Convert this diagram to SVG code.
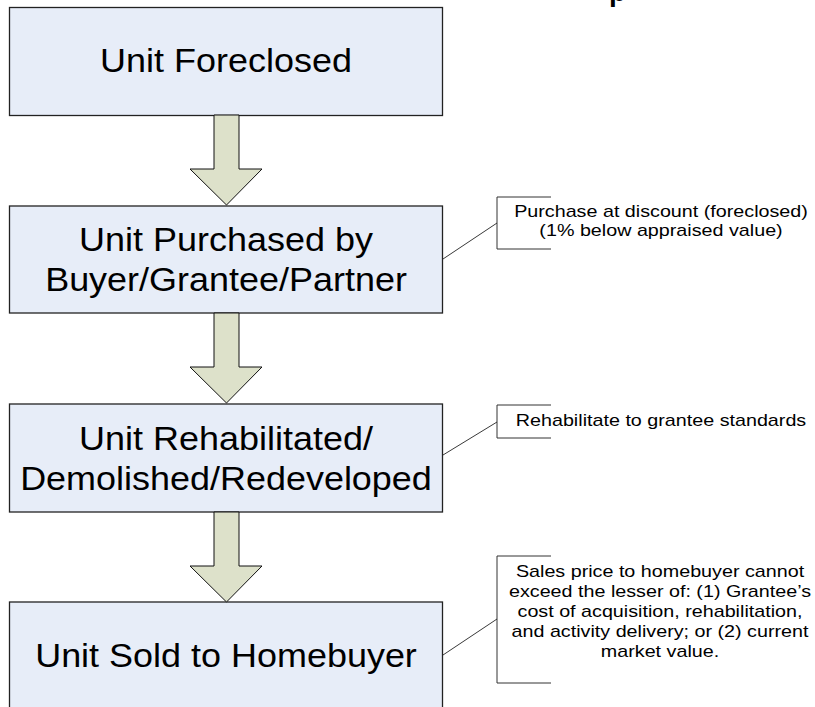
<svg xmlns="http://www.w3.org/2000/svg" width="815" height="707" viewBox="0 0 815 707">
  <style>
    .box { fill: #E7EDF8; stroke: #222; stroke-width: 1.3; }
    .label { font-family: "Liberation Sans", Arial, sans-serif; font-size: 33px; fill: #000; text-anchor: middle; }
    .note { font-family: "Liberation Sans", Arial, sans-serif; font-size: 17px; fill: #000; text-anchor: middle; }
    .bracket { fill: none; stroke: #333; stroke-width: 1; }
    .leader { stroke: #222; stroke-width: 0.9; }
    .flow { fill: #DDE1CA; stroke: #111; stroke-width: 1; }
    .title { font-family: "Liberation Sans", Arial, sans-serif; font-size: 28px; font-weight: bold; fill: #000; }
  </style>
  <defs>
    <!-- block arrow between steps, origin at the upper box's bottom edge -->
    <polygon id="step-arrow" class="flow" points="214,0 239,0 239,54 262,54 226.5,90 190,54 214,54"/>
  </defs>

  <rect width="815" height="707" fill="#fff"/>

  <!-- title descender clipped by the top edge -->
  <text class="title" x="609" y="1">p</text>

  <g id="node-foreclosed">
    <rect class="box" x="9.5" y="7.5" width="433" height="108"/>
    <g transform="translate(226 0) scale(1.09 1)">
      <text class="label" x="0" y="72">Unit Foreclosed</text>
    </g>
  </g>

  <g id="node-purchased">
    <rect class="box" x="9.5" y="206" width="433" height="107"/>
    <g transform="translate(226 0) scale(1.09 1)">
      <text class="label" x="0" y="251">Unit Purchased by</text>
      <text class="label" x="0" y="291">Buyer/Grantee/Partner</text>
    </g>
  </g>

  <g id="node-rehabilitated">
    <rect class="box" x="9.5" y="404" width="433" height="108"/>
    <g transform="translate(226 0) scale(1.09 1)">
      <text class="label" x="0" y="450">Unit Rehabilitated/</text>
      <text class="label" x="0" y="490">Demolished/Redeveloped</text>
    </g>
  </g>

  <g id="node-sold">
    <rect class="box" x="9.5" y="602" width="433" height="120"/>
    <g transform="translate(226 0) scale(1.09 1)">
      <text class="label" x="0" y="667">Unit Sold to Homebuyer</text>
    </g>
  </g>

  <g id="note-purchase">
    <path class="bracket" d="M551,197 H497 V249 H551"/>
    <g transform="translate(661 0) scale(1.16 1)">
      <text class="note" x="0" y="217">Purchase at discount (foreclosed)</text>
      <text class="note" x="0" y="236">(1% below appraised value)</text>
    </g>
  </g>

  <g id="note-rehab">
    <path class="bracket" d="M551,405 H497 V438 H551"/>
    <g transform="translate(661 0) scale(1.16 1)">
      <text class="note" x="0" y="426">Rehabilitate to grantee standards</text>
    </g>
  </g>

  <g id="note-sale">
    <path class="bracket" d="M551,556 H497 V683 H551"/>
    <g transform="translate(660 0) scale(1.16 1)">
      <text class="note" x="0" y="577">Sales price to homebuyer cannot</text>
      <text class="note" x="0" y="597">exceed the lesser of: (1) Grantee’s</text>
      <text class="note" x="0" y="617">cost of acquisition, rehabilitation,</text>
      <text class="note" x="0" y="637">and activity delivery; or (2) current</text>
      <text class="note" x="0" y="657">market value.</text>
    </g>
  </g>

  <g id="connectors">
    <use href="#step-arrow" transform="translate(0 115)"/>
    <use href="#step-arrow" transform="translate(0 313)"/>
    <use href="#step-arrow" transform="translate(0 512)"/>
    <line class="leader" x1="443" y1="259" x2="497" y2="223"/>
    <line class="leader" x1="443" y1="455" x2="497" y2="422"/>
    <line class="leader" x1="443" y1="655" x2="497" y2="619"/>
  </g>
</svg>
